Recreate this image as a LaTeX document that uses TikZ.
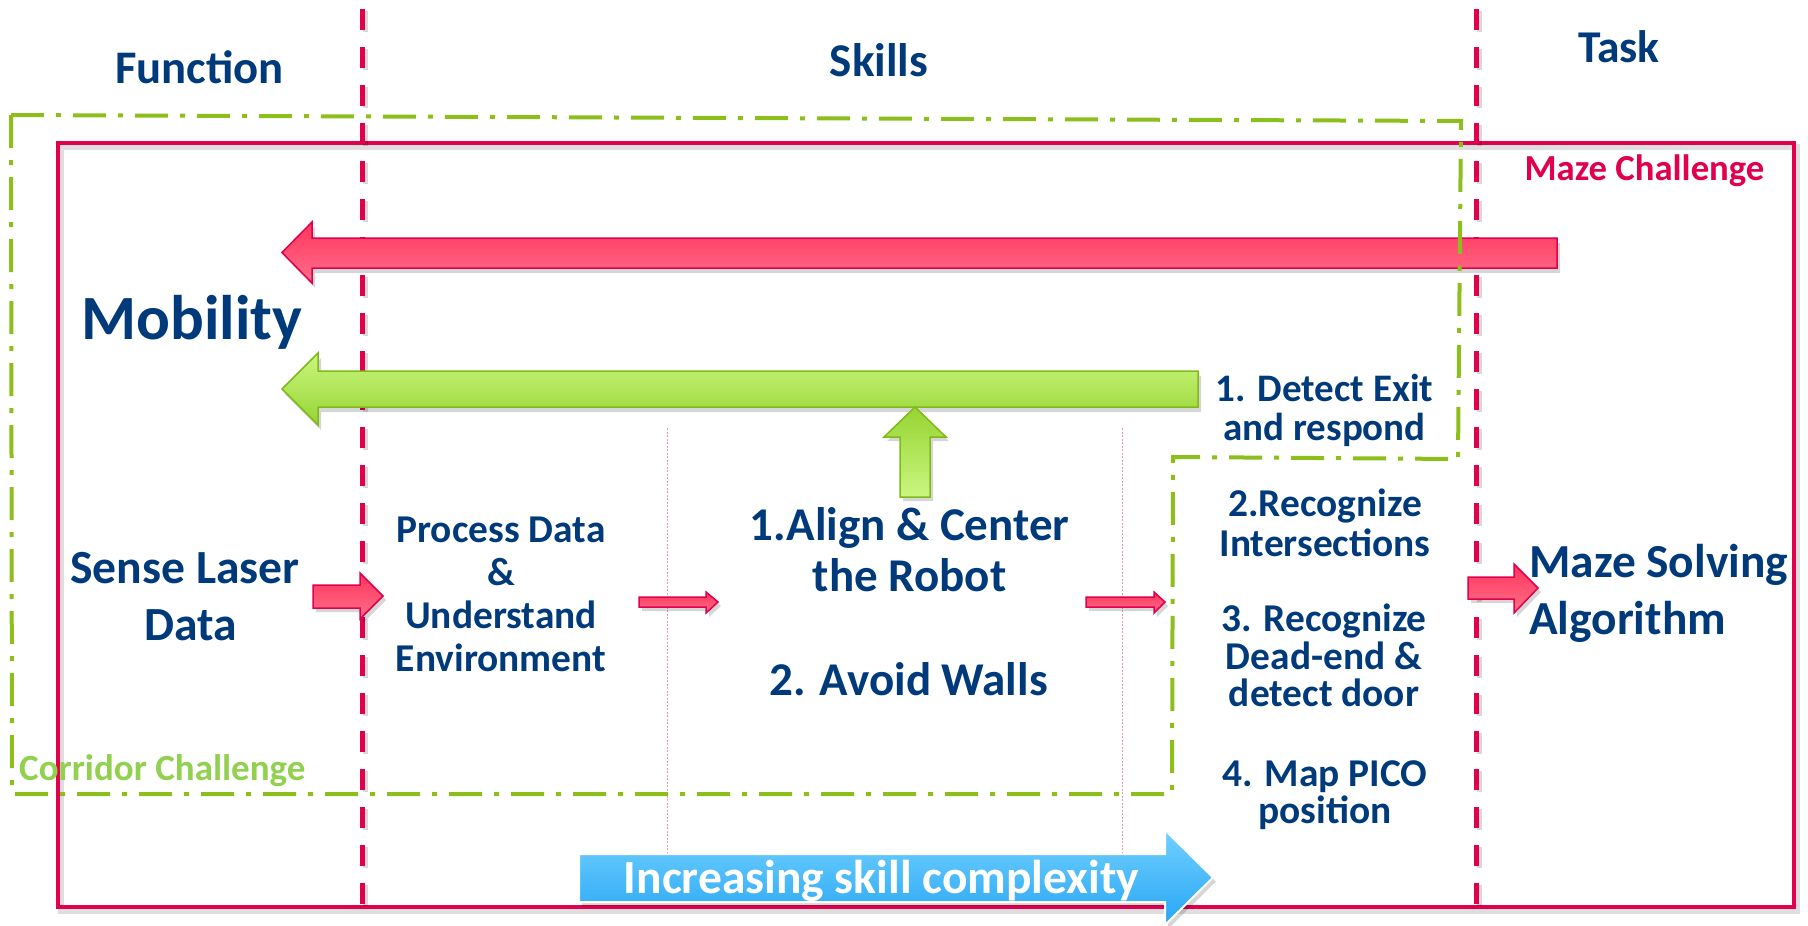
\documentclass[tikz,border=0pt]{standalone}
\usepackage{fontspec}
\setmainfont{Carlito}
\definecolor{navy}{RGB}{0,58,122}
\definecolor{crim}{RGB}{224,0,77}
\definecolor{redtop}{RGB}{255,52,92}
\definecolor{redbot}{RGB}{255,112,138}
\definecolor{gtop}{RGB}{202,246,128}
\definecolor{gbot}{RGB}{150,212,50}
\definecolor{gedge}{RGB}{128,186,24}
\definecolor{dgreen}{RGB}{140,190,28}
\definecolor{ltgreen}{RGB}{146,208,80}
\definecolor{btop}{RGB}{115,208,255}
\definecolor{bbot}{RGB}{38,166,245}
\definecolor{pinkd}{RGB}{240,150,170}
\begin{document}
\begin{tikzpicture}[x=1pt,y=-1pt,
  lbl/.style={text=navy, inner sep=0pt, anchor=base, align=center},
  shd/.style={fill=black, opacity=0.16},
  redarrow/.style={top color=redtop, bottom color=redbot, draw=crim, line width=1.5pt, line join=miter},
  greenarrow/.style={top color=gtop, bottom color=gbot, draw=gedge, line width=1.5pt, line join=miter},
  uparrow/.style={top color=gbot, bottom color=gtop, draw=gedge, line width=1.5pt, line join=miter},
  bluearrow/.style={top color=btop, bottom color=bbot, draw=white, line width=2pt, line join=miter},
  reddash/.style={crim, line width=5pt, dash pattern=on 21pt off 17pt},
  pinkline/.style={pinkd, line width=1pt, dash pattern=on 2pt off 1.5pt},
  corridor/.style={dgreen, line width=4pt, dash pattern=on 33pt off 12pt on 5pt off 12pt, line join=miter}
]
\useasboundingbox (0,0) rectangle (1808,926);

% Maze challenge frame
\draw[black, opacity=0.13, line width=6pt] (60.5,147) rectangle (1797,911);
\draw[crim, line width=4pt] (57.5,143) rectangle (1793.5,906.5);

% column separators
\draw[black, opacity=0.15, line width=5pt, dash pattern=on 21pt off 17pt] (365.5,11) -- (365.5,909);
\draw[reddash] (362.5,9) -- (362.5,907);
\draw[black, opacity=0.15, line width=5pt, dash pattern=on 21pt off 17pt] (1479.8,11) -- (1479.8,909);
\draw[reddash] (1476.8,9) -- (1476.8,907);

% thin pink separators
\draw[pinkline] (667.7,428) -- (667.7,856);
\draw[pinkline] (1122.6,428) -- (1122.6,856);

% big red arrow (Maze -> Mobility)
\fill[shd, shift={(3,5)}] (1557,238) -- (312,238) -- (312,222) -- (282,252.5) -- (312,283) -- (312,268) -- (1557,268) -- cycle;
\path[redarrow] (1557,238) -- (312,238) -- (312,222) -- (282,252.5) -- (312,283) -- (312,268) -- (1557,268) -- cycle;

% big green arrow
\fill[shd, shift={(3,5)}] (1198,371) -- (318,371) -- (318,353) -- (282,389) -- (318,425) -- (318,407) -- (1198,407) -- cycle;
\path[greenarrow] (1198,371) -- (318,371) -- (318,353) -- (282,389) -- (318,425) -- (318,407) -- (1198,407) -- cycle;

% green up arrow
\fill[shd, shift={(3,4)}] (900,497) -- (900,437) -- (884,437) -- (915,407) -- (946,437) -- (930,437) -- (930,497) -- cycle;
\path[uparrow] (900,497) -- (900,437) -- (884,437) -- (915,407) -- (946,437) -- (930,437) -- (930,497) -- cycle;

% corridor challenge frame
\draw[corridor] (11,115) -- (1461,121) -- (1458,459) -- (1173,457) -- (1172,794) -- (12,794) -- cycle;

% small red arrows
\fill[shd, shift={(3,4)}] (313,585) -- (360,585) -- (360,573) -- (383,596) -- (360,619) -- (360,608) -- (313,608) -- cycle;
\path[redarrow] (313,585) -- (360,585) -- (360,573) -- (383,596) -- (360,619) -- (360,608) -- (313,608) -- cycle;
\fill[shd, shift={(3,4)}] (639,597) -- (706,597) -- (706,592) -- (718,602) -- (706,613) -- (706,607) -- (639,607) -- cycle;
\path[redarrow] (639,597) -- (706,597) -- (706,592) -- (718,602) -- (706,613) -- (706,607) -- (639,607) -- cycle;
\fill[shd, shift={(3,4)}] (1086,597) -- (1154,597) -- (1154,592) -- (1165,602) -- (1154,613) -- (1154,607) -- (1086,607) -- cycle;
\path[redarrow] (1086,597) -- (1154,597) -- (1154,592) -- (1165,602) -- (1154,613) -- (1154,607) -- (1086,607) -- cycle;
\fill[shd, shift={(3,4)}] (1468,577) -- (1514,577) -- (1514,564) -- (1538,588) -- (1514,613) -- (1514,599) -- (1468,599) -- cycle;
\path[redarrow] (1468,577) -- (1514,577) -- (1514,564) -- (1538,588) -- (1514,613) -- (1514,599) -- (1468,599) -- cycle;

% blue complexity arrow
\fill[shd, shift={(3,4)}] (579,854) -- (1165,854) -- (1165,830) -- (1213,877.5) -- (1165,925) -- (1165,902) -- (579,902) -- cycle;
\path[bluearrow] (579,854) -- (1165,854) -- (1165,830) -- (1213,877.5) -- (1165,925) -- (1165,902) -- (579,902) -- cycle;

% headings
\node[lbl, font=\fontsize{46.7}{56}\selectfont\bfseries] (function) at (199.5,83) {Function};
\node[lbl, font=\fontsize{47}{56}\selectfont\bfseries] (skills) at (879,76) {Skills};
\node[lbl, font=\fontsize{45.5}{56}\selectfont\bfseries] (task) at (1619,62) {Task};

\node[lbl, font=\fontsize{63}{70}\selectfont\bfseries] (mobility) at (192,339) {Mobility};
\node[lbl, text=crim, font=\fontsize{36.7}{44}\selectfont\bfseries] (maze) at (1644.5,180) {Maze Challenge};
\node[lbl, text=ltgreen, anchor=base west, font=\fontsize{37}{44}\selectfont\bfseries] (corr) at (19,780) {Corridor Challenge};

% multi-line nodes: base anchor is the baseline of the last line
\node[lbl, font=\fontsize{47.6}{57}\selectfont\bfseries] (sense) at (185,640) {Sense Laser\\\hspace*{11pt}Data};
\node[lbl, font=\fontsize{39.4}{43}\selectfont\bfseries] (process) at (501,671.7) {Process Data\\\&\\Understand\\Environment};
\node[lbl, font=\fontsize{47}{51}\selectfont\bfseries] (align) at (909.6,591.7) {1.Align \& Center\\the Robot};
\node[lbl, font=\fontsize{47}{51}\selectfont\bfseries] (avoid) at (908.6,695) {2. Avoid Walls};

\node[lbl, font=\fontsize{39}{38.3}\selectfont\bfseries] (exit) at (1324.6,440) {1. Detect Exit\\and respond};
\node[lbl, font=\fontsize{39.4}{39.3}\selectfont\bfseries] (inter) at (1325,556) {2.Recognize\\Intersections};
\node[lbl, font=\fontsize{39.4}{37.5}\selectfont\bfseries] (dead) at (1324,706.7) {3. Recognize\\Dead-end \&\\detect door};
\node[lbl, font=\fontsize{39.4}{37.3}\selectfont\bfseries] (map) at (1325,823.3) {4. Map PICO\\position};
\node[lbl, anchor=base west, align=left, font=\fontsize{47.4}{56.7}\selectfont\bfseries] (solve) at (1529,634) {Maze Solving\\Algorithm};

\node[lbl, text=white, font=\fontsize{47.5}{56}\selectfont\bfseries] (complex) at (881.5,893) {Increasing skill complexity};
\end{tikzpicture}
\end{document}
